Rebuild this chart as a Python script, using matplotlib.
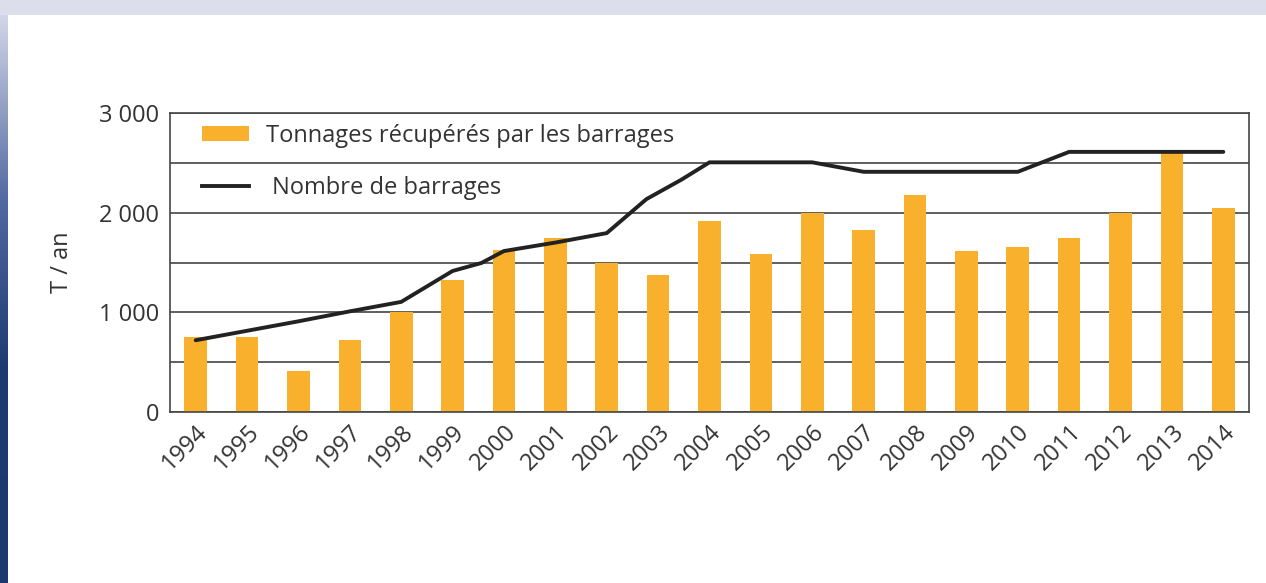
import numpy as np
import matplotlib
matplotlib.use("Agg")
import matplotlib.pyplot as plt
from matplotlib.colors import LinearSegmentedColormap
from matplotlib.patches import Patch
from matplotlib.lines import Line2D

# ---- data ----
years = [1994, 1995, 1996, 1997, 1998, 1999, 2000, 2001, 2002, 2003, 2004,
         2005, 2006, 2007, 2008, 2009, 2010, 2011, 2012, 2013, 2014]
tonnages = [755, 750, 410, 720, 1000, 1320, 1625, 1745, 1495, 1370, 1915,
            1585, 2000, 1825, 2175, 1620, 1660, 1745, 2000, 2600, 2050]
line_years = [1994, 1995, 1996, 1997, 1998, 1999, 1999.56, 2000, 2001, 2002,
              2002.77, 2003.45, 2004, 2005, 2006, 2007, 2008, 2009, 2010,
              2011, 2012, 2013, 2014]
nb_barrages = [720, 815, 910, 1010, 1105, 1415, 1495, 1615, 1700, 1795,
               2135, 2330, 2505, 2505, 2505, 2410, 2410, 2410, 2410,
               2610, 2610, 2610, 2610]
yticks = [0, 1000, 2000, 3000]
ytick_labels = ["0", "1 000", "2 000", "3 000"]
legend_labels = ["Tonnages récupérés par les barrages", " Nombre de barrages"]
ylabel = "T / an"

BAR = "#F8B02D"
TXT = "#333333"
FS = 17

plt.rcParams['font.family'] = ['Open Sans', 'DejaVu Sans']

fig = plt.figure(figsize=(12.66, 5.83), dpi=100)
fig.patch.set_facecolor("white")

# decorative background bands
top = fig.add_axes([0, 1 - 15 / 583, 1, 15 / 583])
top.set_facecolor("#DCDEEB")
top.set_xticks([]); top.set_yticks([])
for s in top.spines.values():
    s.set_visible(False)

left = fig.add_axes([0, 0, 8 / 1266, 1 - 15 / 583])
cmap = LinearSegmentedColormap.from_list(
    "band", [(0.0, "#1A3A6E"), (0.38, "#1C3C70"), (0.67, "#5068A0"), (1.0, "#D2D6E7")])
grad = np.linspace(0, 1, 256).reshape(-1, 1)
left.imshow(grad, aspect="auto", cmap=cmap, origin="lower", extent=[0, 1, 0, 1])
left.set_xticks([]); left.set_yticks([])
for s in left.spines.values():
    s.set_visible(False)

ax = fig.add_axes([170 / 1266, 1 - 412 / 583, (1249 - 170) / 1266, (412 - 113) / 583])

ax.bar(years, tonnages, width=0.44, color=BAR, zorder=2)
ax.plot(line_years, nb_barrages, color="#222222", lw=2.8, zorder=3,
        solid_capstyle="round", solid_joinstyle="miter")

ax.set_xlim(1993.5, 2014.5)
ax.set_ylim(0, 3000)
ax.set_yticks(yticks)
ax.set_yticklabels(ytick_labels)
ax.set_yticks([500, 1500, 2500], minor=True)
ax.grid(axis="y", which="both", color="#444444", lw=1.2, zorder=1)
ax.tick_params(axis="y", which="both", length=0, pad=8, labelsize=FS, labelcolor=TXT)
ax.set_xticks(years)
ax.set_xticklabels([str(y) for y in years], rotation=45, ha="right",
                   rotation_mode="anchor")
ax.tick_params(axis="x", length=0, pad=6, labelsize=FS, labelcolor=TXT)
for s in ax.spines.values():
    s.set_color("#444444")
    s.set_linewidth(1.2)

ax.set_ylabel(ylabel, fontsize=FS, color=TXT, labelpad=18)

handles = [Patch(facecolor=BAR, edgecolor="none"),
           Line2D([0], [0], color="#222222", lw=2.8)]
leg = ax.legend(handles, legend_labels, loc="upper left", frameon=False,
                fontsize=FS, handlelength=2.0, handleheight=0.65,
                labelspacing=1.2, handletextpad=0.7,
                bbox_to_anchor=(0.01, 1.035), labelcolor=TXT)

fig.savefig("out.png", dpi=100)
